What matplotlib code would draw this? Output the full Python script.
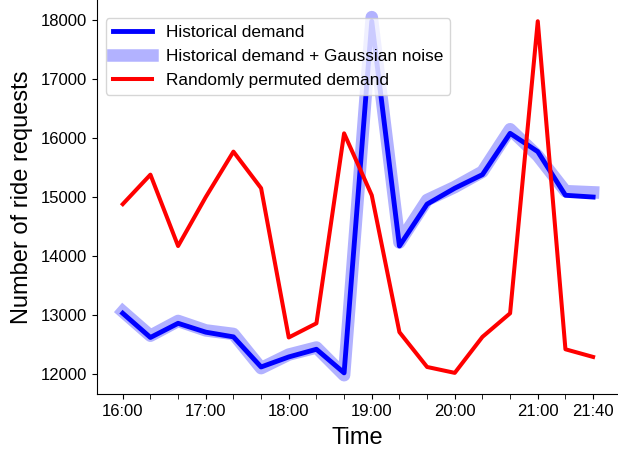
import matplotlib.pyplot as plt

plt.rcParams['font.family'] = ['Liberation Sans', 'DejaVu Sans']

# 20-minute slots from 16:00 to 21:40
slot_labels = ['16:00', '', '', '17:00', '', '', '18:00', '', '', '19:00',
               '', '', '20:00', '', '', '21:00', '', '21:40']

historical = [13030, 12620, 12860, 12710, 12630, 12120, 12290, 12420, 12020,
              17980, 14170, 14880, 15150, 15380, 16080, 15770, 15030, 15000]
noisy = [13060, 12650, 12900, 12740, 12680, 12100, 12330, 12450, 11980,
         18050, 14230, 14950, 15170, 15430, 16150, 15700, 15100, 15080]
permuted = [14880, 15380, 14170, 15000, 15770, 15150, 12620, 12860, 16080,
            15030, 12710, 12120, 12020, 12630, 13030, 17980, 12420, 12290]

x = list(range(len(slot_labels)))

fig = plt.figure(figsize=(6.18, 4.53), dpi=100)
ax = fig.add_axes([0.157, 0.130, 0.843, 0.870])

ax.plot(x, historical, color='blue', lw=3.5, label='Historical demand', zorder=3)
ax.plot(x, noisy, color='blue', alpha=0.3, lw=9, solid_capstyle='projecting',
        solid_joinstyle='round', label='Historical demand + Gaussian noise', zorder=2)
ax.plot(x, permuted, color='red', lw=2.9, label='Randomly permuted demand', zorder=4)

major = [i for i, s in enumerate(slot_labels) if s]
minor = [i for i, s in enumerate(slot_labels) if not s]
ax.set_xticks(major)
ax.set_xticklabels([slot_labels[i] for i in major], fontsize=12)
ax.set_xticks(minor, minor=True)
ax.tick_params(axis='x', which='minor', length=3.5)
ax.set_yticks([12000, 13000, 14000, 15000, 16000, 17000, 18000])
ax.tick_params(axis='y', labelsize=12)

ax.set_xlim(-0.93, 17.9)
ax.set_ylim(11660, 18340)

ax.spines['top'].set_visible(False)
ax.spines['right'].set_visible(False)

ax.set_xlabel('Time', fontsize=17, labelpad=6)
ax.set_ylabel('Number of ride requests', fontsize=17, labelpad=6)

ax.legend(loc='upper left', fontsize=12.4, handlelength=2.3,
          bbox_to_anchor=(0.0, 0.975), borderaxespad=0.5)

fig.savefig('out.png', dpi=100)
